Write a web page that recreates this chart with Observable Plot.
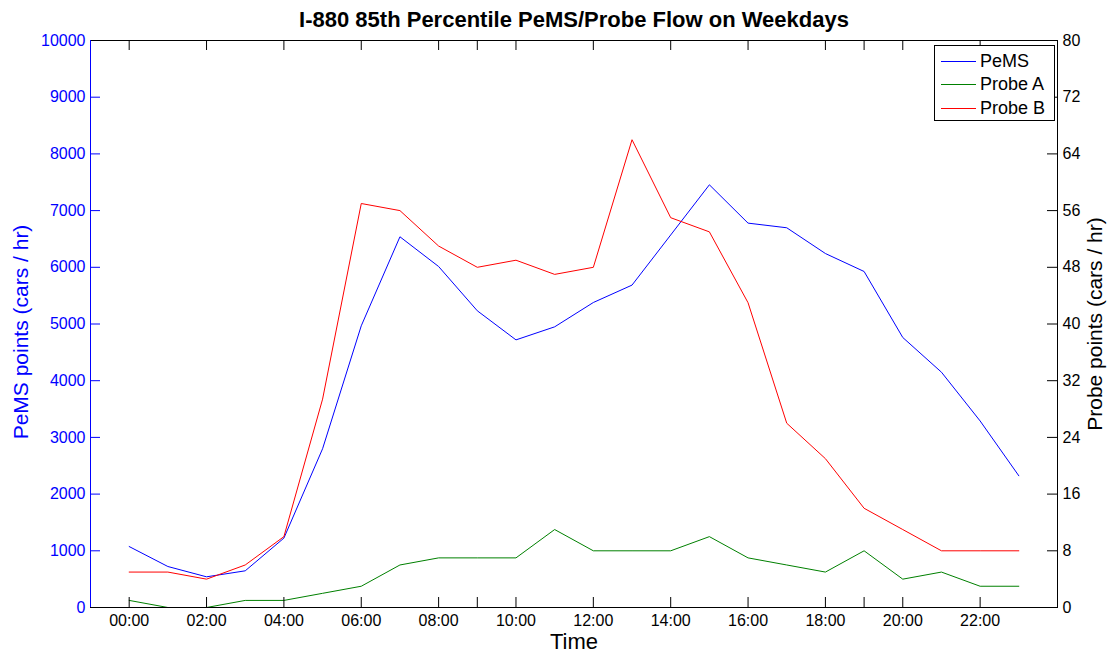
<!DOCTYPE html>
<html>
<head>
<meta charset="utf-8">
<script src="https://cdn.jsdelivr.net/npm/d3@7"></script>
<script src="https://cdn.jsdelivr.net/npm/@observablehq/plot@0.6"></script>
<style>
  html, body { margin: 0; padding: 0; background: #fff; }
  #wrap { position: relative; width: 1112px; height: 652px; font-family: "Liberation Sans", Arial, sans-serif; }
  #legend { position: absolute; left: 934px; top: 45px; width: 119px; height: 74px; border: 1px solid #000; background: #fff; }
  .row { position: absolute; left: 0; height: 22px; display: flex; align-items: center; font-size: 18px; color: #000; }
  .sw { width: 35px; height: 0; border-top: 1px solid; margin-left: 6px; margin-right: 4px; }
</style>
</head>
<body>
<div id="wrap"></div>
<script>
// ---- data ----
const title = ["I-880 85th Percentile PeMS/Probe Flow on Weekdays"];
const hours = [0,1,2,3,4,5,6,7,8,9,10,11,12,13,14,15,16,17,18,19,20,21,22,23];
const pems   = [1075,723,541,647,1224,2800,4968,6538,6014,5233,4720,4950,5379,5686,6570,7455,6779,6697,6243,5926,4762,4150,3290,2323];
const probeA = [1,0,0,1,1,2,3,6,7,7,7,11,8,8,8,10,7,6,5,8,4,5,3,3];
const probeB = [5,5,4,6,10,29.4,57,56,51,48,49,47,48,66,55,53,43,26,21,14,11,8,8,8];
const xLabelHours = [0,2,4,6,8,10,12,14,16,18,20,22];
const xTickHours  = [0,2,4,6,8,9,10,12,14,16,18,19,20,22];
const pemsTicks  = [0,1000,2000,3000,4000,5000,6000,7000,8000,9000,10000];
const probeTicks = [0,8,16,24,32,40,48,56,64,72,80];
const xDomain = [-1, 24];
const pemsDomain = [0, 10000];
const probeDomain = [0, 80];
const seriesNames = ["PeMS", "Probe A", "Probe B"];
const seriesColors = ["#0000ff", "#008000", "#ff0000"];
const xTitle = ["Time"];
const yLeftTitle = ["PeMS points (cars / hr)"];
const yRightTitle = ["Probe points (cars / hr)"];

// probe values are drawn on the shared y scale via the ratio of the two axes
const ratio = pemsDomain[1] / probeDomain[1];
const toY = v => v * ratio;

const rows = hours.map((h, i) => ({hour: h, pems: pems[i], a: toY(probeA[i]), b: toY(probeB[i])}));

const W = 1112, H = 652, mL = 90, mR = 55, mT = 40, mB = 45;
const fw = W - mL - mR, fh = H - mT - mB, tick = 10;
const font = "Liberation Sans, Arial, sans-serif";

const chart = Plot.plot({
  width: W, height: H,
  marginLeft: mL, marginRight: mR, marginTop: mT, marginBottom: mB,
  style: {fontFamily: font, background: "white", color: "black"},
  x: {domain: xDomain},
  y: {domain: pemsDomain},
  marks: [
    Plot.line(rows, {x: "hour", y: "pems", stroke: seriesColors[0], strokeWidth: 1}),
    Plot.line(rows, {x: "hour", y: "a", stroke: seriesColors[1], strokeWidth: 1}),
    Plot.line(rows, {x: "hour", y: "b", stroke: seriesColors[2], strokeWidth: 1}),
    Plot.ruleX(xTickHours, {x: d => d, insetTop: fh - tick, stroke: "black"}),
    Plot.ruleX(xTickHours, {x: d => d, insetBottom: fh - tick, stroke: "black"}),
    Plot.ruleY(pemsTicks, {y: d => d, insetRight: fw - tick, stroke: "blue"}),
    Plot.ruleY(probeTicks, {y: d => toY(d), insetLeft: fw - tick, stroke: "black"}),
    Plot.frame({stroke: "black"}),
    Plot.ruleX([xDomain[0]], {stroke: "blue"}),
    Plot.axisX({ticks: xLabelHours, tickFormat: h => String(h).padStart(2, "0") + ":00",
      tickSize: 0, tickPadding: 7, fontSize: 16, label: null}),
    Plot.axisY({anchor: "left", ticks: pemsTicks, tickFormat: d => String(d),
      tickSize: 0, tickPadding: 5, fontSize: 16, color: "blue", label: null}),
    Plot.axisY({anchor: "right", ticks: probeTicks.map(toY), tickFormat: v => String(Math.round(v / ratio)),
      tickSize: 0, tickPadding: 5, fontSize: 16, label: null}),
    Plot.text(title, {frameAnchor: "top", dy: -14, lineAnchor: "bottom", fontSize: 22, fontWeight: "bold", fill: "black"}),
    Plot.text(xTitle, {frameAnchor: "bottom", dy: 41, lineAnchor: "bottom", fontSize: 22, fill: "black"}),
    Plot.text(yLeftTitle, {frameAnchor: "left", textAnchor: "middle", dx: -69, dy: 8, rotate: -90, fontSize: 21, fill: "blue"}),
    Plot.text(yRightTitle, {frameAnchor: "right", textAnchor: "middle", dx: 38, rotate: -90, fontSize: 21, fill: "black"})
  ]
});

const wrap = document.getElementById("wrap");
wrap.appendChild(chart);

const legend = document.createElement("div");
legend.id = "legend";
seriesNames.forEach((name, i) => {
  const r = document.createElement("div");
  r.className = "row";
  r.style.top = (4 + i * 23.5) + "px";
  const s = document.createElement("span");
  s.className = "sw";
  s.style.borderTopColor = seriesColors[i];
  const t = document.createElement("span");
  t.textContent = name;
  r.appendChild(s); r.appendChild(t);
  legend.appendChild(r);
});
wrap.appendChild(legend);
</script>
</body>
</html>
